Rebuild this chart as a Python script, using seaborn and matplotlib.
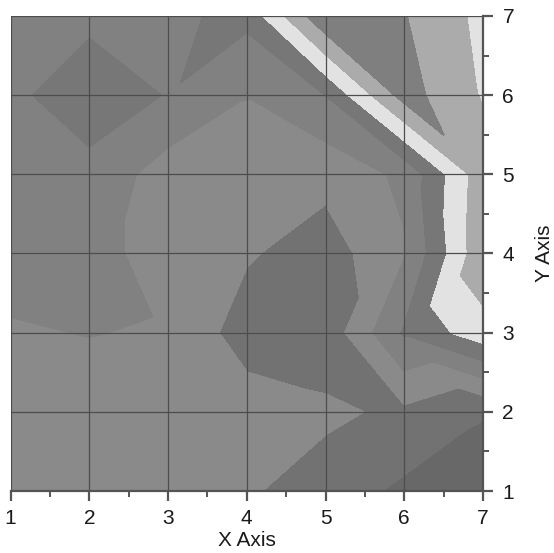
import numpy as np
import matplotlib
matplotlib.use("Agg")
import matplotlib.pyplot as plt
import matplotlib.tri as mtri
import seaborn as sns

# grid coordinates
x_values = [1, 2, 3, 4, 5, 6, 7]
y_values = [1, 2, 3, 4, 5, 6, 7]

# Z values, one row per Y (from Y = 1 up to Y = 7), columns follow X = 1 .. 7
z_y1 = [2.00, 2.00, 2.00, 1.62, 1.00, 0.30, 0.00]
z_y2 = [2.00, 2.00, 2.00, 2.00, 1.70, 1.28, 0.56]
z_y3 = [2.40, 2.53, 2.40, 1.00, 0.80, 3.60, 5.10]
z_y4 = [2.90, 2.90, 2.00, 1.60, 1.00, 2.40, 6.24]
z_y5 = [3.00, 3.23, 2.00, 2.00, 1.80, 2.70, 6.10]
z_y6 = [3.30, 4.00, 3.45, 2.53, 3.50, 6.90, 5.40]
z_y7 = [3.00, 3.30, 3.30, 3.75, 7.35, 6.55, 5.22]

# contour levels and the gray fill of each band
levels = [-0.5, 0.5, 1.5, 2.5, 3.5, 4.5, 5.5, 6.5, 7.5]
band_colors = ["#686868", "#727272", "#8a8a8a", "#818181",
               "#777777", "#e2e2e2", "#ababab", "#7f7f7f"]

x_ticks = [1, 2, 3, 4, 5, 6, 7]
y_ticks = [1, 2, 3, 4, 5, 6, 7]

sns.set_style("ticks")
plt.rcParams["font.family"] = ["Liberation Sans", "DejaVu Sans"]

Z = np.array([z_y1, z_y2, z_y3, z_y4, z_y5, z_y6, z_y7])
X, Y = np.meshgrid(x_values, y_values)
zf = Z.ravel()
nx, ny = len(x_values), len(y_values)

# split every grid cell into two triangles along the flatter diagonal
triangles = []
for j in range(ny - 1):
    for i in range(nx - 1):
        bl, br = j * nx + i, j * nx + i + 1
        tl, tr = (j + 1) * nx + i, (j + 1) * nx + i + 1
        if abs(zf[tr] - zf[bl]) <= abs(zf[br] - zf[tl]):
            triangles += [[bl, br, tr], [bl, tr, tl]]
        else:
            triangles += [[bl, br, tl], [br, tr, tl]]
tri = mtri.Triangulation(X.ravel(), Y.ravel(), triangles)

fig = plt.figure(figsize=(5.54, 5.53), dpi=100)
ax = fig.add_axes([0.0191, 0.1121, 0.8527, 0.859])
filled = ax.tricontourf(tri, zf, levels=levels, colors=band_colors)
# paint the polygon outlines in their own fill colour to hide seams
filled.set_edgecolor("face")
filled.set_linewidth(0.7)

ax.set_xlim(min(x_values), max(x_values))
ax.set_ylim(min(y_values), max(y_values))
ax.set_xticks(x_ticks)
ax.set_yticks(y_ticks)
ax.set_xticks(np.arange(1.5, 7, 1.0), minor=True)
ax.set_yticks(np.arange(1.5, 7, 1.0), minor=True)
ax.grid(True, which="major", color="#4d4d4d", linewidth=0.9)
ax.set_axisbelow(False)

ax.yaxis.tick_right()
ax.yaxis.set_label_position("right")
for side in ("left", "top"):
    ax.spines[side].set_visible(False)
for side in ("bottom", "right"):
    ax.spines[side].set_color("#555555")
    ax.spines[side].set_linewidth(1.6)

ax.tick_params(which="major", direction="out", length=7, width=1.6,
               color="#555555", labelsize=15, labelcolor="#1a1a1a")
ax.tick_params(axis="x", which="major", pad=6)
ax.tick_params(axis="y", which="major", pad=7)
ax.tick_params(which="minor", direction="out", length=4, width=1.4,
               color="#555555")
ax.tick_params(axis="y", which="both", left=False, right=True)
ax.tick_params(axis="x", which="both", top=False, bottom=True)

ax.set_xlabel("X Axis", fontsize=15, color="#1a1a1a", labelpad=2)
ax.set_ylabel("Y Axis", fontsize=15, color="#1a1a1a", labelpad=15)

fig.savefig("out.png", dpi=100)
